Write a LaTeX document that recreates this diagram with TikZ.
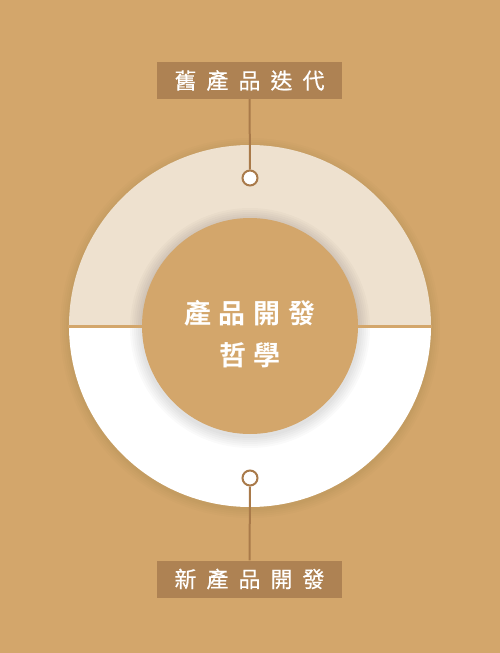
\documentclass[tikz,border=0pt]{standalone}
\usepackage{fontspec}
\newfontfamily\cjk[FakeBold=0.5]{Noto Sans CJK TC}
\newfontfamily\cjkb{Noto Sans CJK TC Bold}
\definecolor{bgtan}{HTML}{D3A66B}
\definecolor{boxbrown}{HTML}{AE8253}
\definecolor{ringtop}{HTML}{EEE1CF}
\definecolor{linebrown}{HTML}{A97A4A}
\begin{document}
\begin{tikzpicture}[x=1pt,y=-1pt,
  labelbox/.style={fill=boxbrown, minimum width=185pt, minimum height=37pt, inner sep=0pt, text=white, font=\cjk\fontsize{22}{22}\selectfont},
  connector/.style={draw=linebrown, line width=2pt},
  dotmark/.style={circle, draw=linebrown, line width=2pt, fill=white, minimum size=15pt, inner sep=0pt},
  centertext/.style={text=white, font=\cjkb\fontsize{27}{42}\selectfont, align=center}]
\fill[bgtan] (0,0) rectangle (500,653);
\useasboundingbox (0,0) rectangle (500,653);
% outer soft shadow
\foreach \r in {190,188,186,184,182.5}{
  \fill[black, opacity=0.012] (250,328) circle (\r);
}
% ring halves
\fill[white] (69,326) arc[start angle=180, end angle=0, radius=181] -- cycle;
\fill[ringtop] (69,326) arc[start angle=180, end angle=360, radius=181] -- cycle;
% inner shadow
\foreach \r in {120,118,116,114,112,110}{
  \fill[black, opacity=0.02] (250,328) circle (\r);
}
\draw[bgtan, line width=3pt] (68,326) -- (432,326);
\fill[bgtan] (250,326) circle (108);
\node[centertext] (center) at (250,334) {產\hspace{8pt}品\hspace{8pt}開\hspace{8pt}發\\哲\hspace{8pt}學};
% labels
\node[labelbox] (top) at (249.5,80.5) {舊\hspace{10pt}產\hspace{10pt}品\hspace{10pt}迭\hspace{10pt}代};
\node[labelbox] (bot) at (249.5,579) {新\hspace{10pt}產\hspace{10pt}品\hspace{10pt}開\hspace{10pt}發};
\node[dotmark] (tdot) at (250,178) {};
\node[dotmark] (bdot) at (250,478) {};
\draw[connector] (top.south) -- (tdot.north);
\draw[connector] (bdot.south) -- (bot.north);
\end{tikzpicture}
\end{document}
